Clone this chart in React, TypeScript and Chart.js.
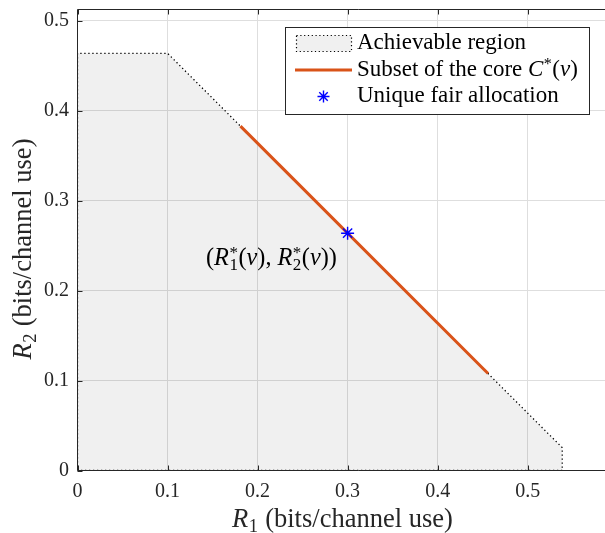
import React, { useEffect, useRef } from 'react';
import { Chart, registerables } from 'chart.js';
Chart.register(...registerables);

// ---- data ----
const regionX = [0, 0, 0.1, 0.5384, 0.5384, 0];
const regionY = [0, 0.4638, 0.4638, 0.0254, 0, 0];
const coreX = [0.181, 0.456];
const coreY = [0.3828, 0.1078];
const fairX = [0.3];
const fairY = [0.2638];
const xTicks = [0, 0.1, 0.2, 0.3, 0.4, 0.5];
const yTicks = [0, 0.1, 0.2, 0.3, 0.4, 0.5];
const xRange = [0, 0.6];
const yRange = [0, 0.5127];
const xTitle = 'bits/channel use';
const yTitle = 'bits/channel use';
const legendLabels = ['Achievable region', 'Subset of the core ', 'Unique fair allocation'];

const SERIF = '"Liberation Serif", "DejaVu Serif", serif';
const AX = '#262626';
const ORANGE = '#D95319';
const BLUE = '#0000FF';
const REGION_FILL = 'rgba(0,0,0,0.059)';

type Seg = { t?: string; i?: boolean; sub?: string; sup?: string };

function fnt(size: number, italic?: boolean) {
  return `${italic ? 'italic ' : ''}${size}px ${SERIF}`;
}
function richWidth(ctx: CanvasRenderingContext2D, segs: Seg[], size: number) {
  let w = 0;
  for (const s of segs) {
    if (s.t) { ctx.font = fnt(size, s.i); w += ctx.measureText(s.t).width; }
    if (s.sub || s.sup) {
      ctx.font = fnt(size * 0.7);
      const a = s.sub ? ctx.measureText(s.sub).width : 0;
      const b = s.sup ? ctx.measureText(s.sup).width : 0;
      w += Math.max(a, b) + size * 0.04;
    }
  }
  return w;
}
function drawRich(ctx: CanvasRenderingContext2D, segs: Seg[], x: number, y: number, size: number) {
  ctx.textAlign = 'left';
  ctx.textBaseline = 'alphabetic';
  let cx = x;
  for (const s of segs) {
    if (s.t) { ctx.font = fnt(size, s.i); ctx.fillText(s.t, cx, y); cx += ctx.measureText(s.t).width; }
    if (s.sub || s.sup) {
      ctx.font = fnt(size * 0.7);
      let a = 0, b = 0;
      if (s.sub) { ctx.fillText(s.sub, cx + size * 0.02, y + size * 0.2); a = ctx.measureText(s.sub).width; }
      if (s.sup) { ctx.fillText(s.sup, cx + size * 0.02, y - size * 0.3); b = ctx.measureText(s.sup).width; }
      cx += Math.max(a, b) + size * 0.04;
    }
  }
}
function fitSize(ctx: CanvasRenderingContext2D, segs: Seg[], target: number) {
  return 20 * target / richWidth(ctx, segs, 20);
}
function asterisk(ctx: CanvasRenderingContext2D, x: number, y: number, r: number) {
  ctx.beginPath();
  for (let k = 0; k < 4; k++) {
    const a = k * Math.PI / 4;
    ctx.moveTo(x + r * Math.cos(a), y + r * Math.sin(a));
    ctx.lineTo(x - r * Math.cos(a), y - r * Math.sin(a));
  }
  ctx.stroke();
}

const regionFillPlugin = {
  id: 'regionFill',
  beforeDatasetsDraw(chart: any) {
    const ctx: CanvasRenderingContext2D = chart.ctx;
    const xs = chart.scales.x, ys = chart.scales.y;
    const { left, top, right, bottom } = chart.chartArea;
    ctx.save();
    ctx.beginPath();
    ctx.rect(left, top, right - left, bottom - top);
    ctx.clip();
    ctx.beginPath();
    regionX.forEach((x, i) => {
      const px = xs.getPixelForValue(x), py = ys.getPixelForValue(regionY[i]);
      if (i === 0) ctx.moveTo(px, py); else ctx.lineTo(px, py);
    });
    ctx.closePath();
    ctx.fillStyle = REGION_FILL;
    ctx.fill();
    ctx.restore();
  },
};

const decorPlugin = {
  id: 'decor',
  afterDatasetsDraw(chart: any) {
    const ctx: CanvasRenderingContext2D = chart.ctx;
    const { left, top, bottom } = chart.chartArea;
    const xs = chart.scales.x, ys = chart.scales.y;
    const L = Math.floor(left) + 0.5, T = Math.floor(top) + 0.5, B = Math.floor(bottom) + 0.5;
    const W = chart.width;
    ctx.save();
    // axes box
    ctx.strokeStyle = AX;
    ctx.lineWidth = 1;
    ctx.setLineDash([]);
    ctx.beginPath();
    ctx.moveTo(W, T); ctx.lineTo(L, T); ctx.lineTo(L, B); ctx.lineTo(W, B);
    ctx.stroke();
    // inward ticks
    ctx.beginPath();
    for (const v of xTicks) {
      const px = Math.round(xs.getPixelForValue(v)) + 0.5;
      ctx.moveTo(px, B); ctx.lineTo(px, B - 5);
      ctx.moveTo(px, T); ctx.lineTo(px, T + 5);
    }
    for (const v of yTicks) {
      const py = Math.round(ys.getPixelForValue(v)) + 0.5;
      ctx.moveTo(L, py); ctx.lineTo(L + 5, py);
    }
    ctx.stroke();

    // annotation
    ctx.fillStyle = '#000';
    const ann: Seg[] = [
      { t: '(' }, { t: 'R', i: true, sub: '1', sup: '*' }, { t: '(' }, { t: 'v', i: true }, { t: '), ' },
      { t: 'R', i: true, sub: '2', sup: '*' }, { t: '(' }, { t: 'v', i: true }, { t: '))' },
    ];
    const annSize = fitSize(ctx, ann, 131);
    drawRich(ctx, ann, 206, 265, annSize);

    // legend
    ctx.fillStyle = '#fff';
    ctx.fillRect(285.5, 27.5, 304, 87);
    ctx.strokeStyle = AX;
    ctx.strokeRect(285.5, 27.5, 304, 87);
    ctx.fillStyle = '#f0f0f0';
    ctx.fillRect(296.5, 35.5, 55, 16);
    ctx.strokeStyle = '#000';
    ctx.lineWidth = 1.2;
    ctx.setLineDash([1.2, 2.6]);
    ctx.strokeRect(296.5, 35.5, 55, 16);
    ctx.setLineDash([]);
    ctx.strokeStyle = ORANGE;
    ctx.lineWidth = 3;
    ctx.beginPath(); ctx.moveTo(295, 70); ctx.lineTo(352, 70); ctx.stroke();
    ctx.strokeStyle = BLUE;
    ctx.lineWidth = 1.4;
    asterisk(ctx, 323.5, 96.5, 6);

    const l1: Seg[] = [{ t: legendLabels[0] }];
    const l2: Seg[] = [{ t: legendLabels[1] }, { t: 'C', i: true, sup: '*' }, { t: '(' }, { t: 'v', i: true }, { t: ')' }];
    const l3: Seg[] = [{ t: legendLabels[2] }];
    const ls = (fitSize(ctx, l1, 165) + fitSize(ctx, l2, 225) + fitSize(ctx, l3, 203)) / 3;
    ctx.fillStyle = '#000';
    drawRich(ctx, l1, 357, 49, ls);
    drawRich(ctx, l2, 357, 76, ls);
    drawRich(ctx, l3, 357, 102, ls);

    // axis titles
    const xt: Seg[] = [{ t: 'R', i: true, sub: '1' }, { t: ' (' + xTitle + ')' }];
    const yt: Seg[] = [{ t: 'R', i: true, sub: '2' }, { t: ' (' + yTitle + ')' }];
    const ts = fitSize(ctx, xt, 221);
    ctx.fillStyle = AX;
    drawRich(ctx, xt, 232, 527, ts);
    const yw = richWidth(ctx, yt, ts);
    ctx.translate(31, 249);
    ctx.rotate(-Math.PI / 2);
    drawRich(ctx, yt, -yw / 2, 0, ts);
    ctx.restore();
  },
};

export default function App() {
  const ref = useRef<HTMLCanvasElement>(null);
  useEffect(() => {
    const canvas = ref.current!;
    const pts = (xs: number[], ys: number[]) => xs.map((x, i) => ({ x, y: ys[i] }));
    const chart = new Chart(canvas, {
      type: 'line',
      data: {
        datasets: [
          {
            label: legendLabels[0],
            data: pts(regionX, regionY),
            fill: false,
            borderColor: '#000',
            borderWidth: 1.3,
            borderDash: [1.3, 2.7],
            pointRadius: 0,
            tension: 0,
            order: 2,
          } as any,
          {
            label: legendLabels[1],
            data: pts(coreX, coreY),
            fill: false,
            borderColor: ORANGE,
            borderWidth: 3,
            pointRadius: 0,
            order: 1,
          } as any,
          {
            label: legendLabels[2],
            data: pts(fairX, fairY),
            showLine: false,
            fill: false,
            pointStyle: 'star',
            pointRadius: 6.5,
            borderColor: BLUE,
            backgroundColor: BLUE,
            pointBorderWidth: 1.4,
            order: 0,
          } as any,
        ],
      },
      options: {
        responsive: false,
        devicePixelRatio: 1,
        animation: false,
        layout: { padding: { left: 0, top: 9.3, right: 640 - 617.7, bottom: 0 } },
        plugins: { legend: { display: false }, tooltip: { enabled: false } },
        scales: {
          x: {
            type: 'linear',
            min: xRange[0],
            max: xRange[1],
            afterBuildTicks: (s: any) => { s.ticks = xTicks.map((v) => ({ value: v })); },
            afterFit: (s: any) => { s.height = 533 - 470.5; s.paddingLeft = 0; s.paddingRight = 0; },
            grid: { color: '#dedede', lineWidth: 1, drawTicks: false },
            border: { display: false },
            ticks: {
              padding: 9,
              color: AX,
              font: { family: SERIF, size: 20 },
              maxRotation: 0,
              autoSkip: false,
              callback: (v: any) => String(Number(v)),
            },
          },
          y: {
            type: 'linear',
            min: yRange[0],
            max: yRange[1],
            afterBuildTicks: (s: any) => { s.ticks = yTicks.map((v) => ({ value: v })); },
            afterFit: (s: any) => { s.width = 77.5; s.paddingTop = 0; s.paddingBottom = 0; },
            grid: { color: '#dedede', lineWidth: 1, drawTicks: false },
            border: { display: false },
            ticks: {
              padding: 8.5,
              color: AX,
              font: { family: SERIF, size: 20 },
              autoSkip: false,
              callback: (v: any) => String(Number(v)),
            },
          },
        },
      },
      plugins: [regionFillPlugin, decorPlugin],
    });
    return () => chart.destroy();
  }, []);
  return (
    <div style={{ position: 'fixed', left: 0, top: 0, width: 605, height: 533, overflow: 'hidden', background: '#fff' }}>
      <canvas ref={ref} width={640} height={533} style={{ display: 'block', width: 640, height: 533 }} />
    </div>
  );
}
